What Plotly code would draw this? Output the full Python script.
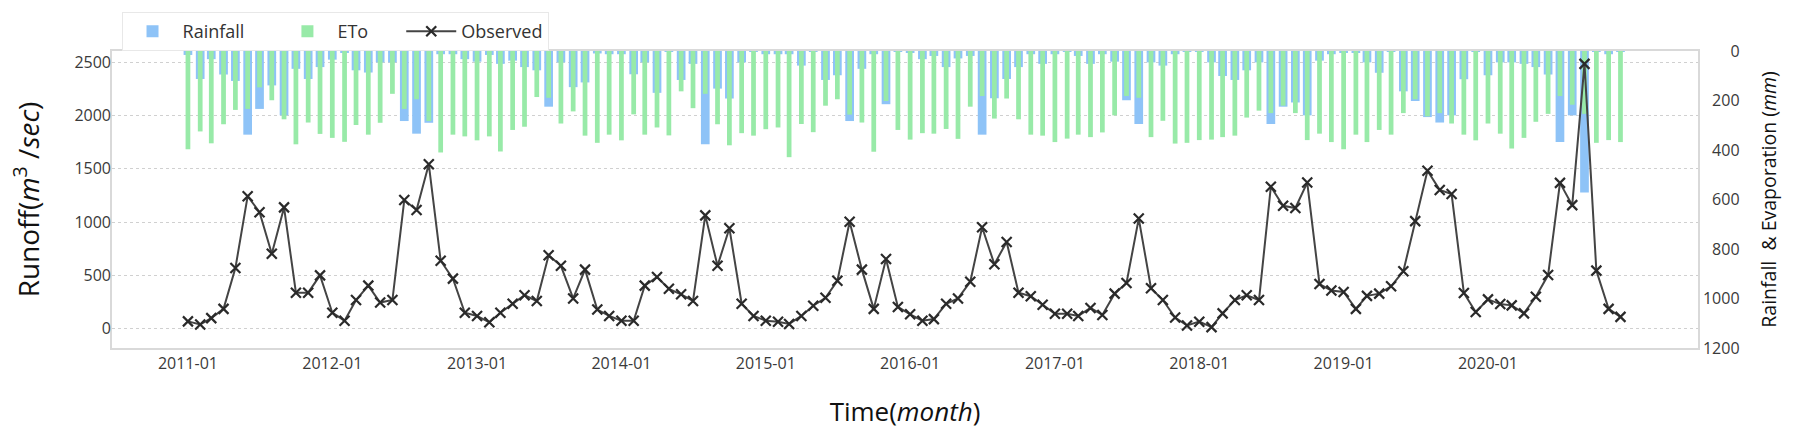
import pandas as pd
import plotly.graph_objects as go

months = pd.date_range("2011-01-01", periods=120, freq="MS")

observed = [
    69, 39, 99, 186, 569, 1243, 1093, 704, 1138, 338, 338, 500,
    150, 75, 269, 404, 245, 269, 1207, 1114, 1542, 638, 470, 150,
    120, 60, 150, 234, 314, 260, 689, 590, 284, 554, 180, 120,
    75, 75, 404, 485, 374, 323, 260, 1063, 590, 943, 234, 120,
    75, 66, 45, 120, 216, 290, 449, 1003, 554, 186, 653, 204,
    135, 75, 90, 234, 284, 440, 952, 605, 814, 338, 305, 225,
    141, 141, 120, 195, 129, 329, 428, 1033, 380, 269, 105, 30,
    66, 15, 144, 269, 314, 269, 1332, 1153, 1132, 1371, 419, 359,
    344, 186, 308, 329, 398, 539, 1009, 1482, 1302, 1263, 335, 156,
    275, 231, 219, 144, 299, 503, 1368, 1159, 2484, 545, 186, 111,
]

rainfall = [
    16, 113, 33, 95, 121, 338, 234, 139, 260, 72, 113, 65,
    35, 7, 78, 87, 46, 46, 283, 334, 290, 13, 13, 33,
    43, 16, 52, 39, 65, 78, 225, 46, 146, 127, 10, 13,
    13, 94, 46, 169, 4, 117, 52, 377, 152, 192, 46, 4,
    13, 13, 13, 59, 4, 117, 98, 283, 72, 13, 215, 4,
    7, 33, 20, 65, 30, 20, 338, 191, 113, 65, 13, 52,
    13, 4, 20, 52, 13, 43, 199, 295, 46, 59, 13, 2,
    2, 46, 101, 117, 78, 46, 295, 225, 208, 260, 39, 13,
    7, 7, 46, 88, 4, 163, 202, 267, 289, 260, 114, 4,
    98, 46, 46, 52, 65, 95, 368, 260, 572, 2, 13, 2,
]

eto = [
    397, 325, 373, 296, 238, 234, 147, 199, 276, 377, 289, 335,
    351, 367, 299, 338, 290, 173, 234, 195, 283, 410, 338, 345,
    361, 345, 406, 319, 306, 186, 189, 293, 244, 342, 371, 338,
    361, 256, 338, 309, 341, 163, 231, 173, 296, 381, 332, 342,
    316, 309, 429, 295, 328, 221, 195, 257, 289, 407, 202, 319,
    358, 332, 334, 315, 355, 225, 182, 273, 192, 276, 338, 342,
    368, 354, 338, 348, 329, 260, 182, 189, 348, 282, 374, 371,
    360, 358, 348, 342, 269, 241, 251, 221, 251, 360, 334, 368,
    397, 338, 368, 319, 338, 251, 195, 264, 251, 293, 338, 361,
    293, 334, 394, 351, 286, 254, 182, 217, 254, 371, 360, 368,
]

year_ticks = pd.date_range("2011-01-01", periods=10, freq="12MS")
right_ticks = [0, 200, 400, 600, 800, 1000, 1200]
left_ticks = [0, 500, 1000, 1500, 2000, 2500]

FONT = "Open Sans"
DAY_MS = 86400000
PAD = "\u00a0" * 6

fig = go.Figure()
fig.add_trace(go.Bar(
    x=months, y=rainfall, name="Rainfall" + PAD, yaxis="y",
    marker=dict(color="#8ec3f7", line=dict(width=0)),
    width=22 * DAY_MS,
))
fig.add_trace(go.Bar(
    x=months, y=eto, name="ETo" + PAD, yaxis="y",
    marker=dict(color="#98eaa8", line=dict(width=0)),
    width=12 * DAY_MS,
))
fig.add_trace(go.Scatter(
    x=months, y=observed, name="Observed", yaxis="y2",
    mode="lines+markers",
    line=dict(color="#444444", width=2),
    marker=dict(symbol="x-thin", size=10, line=dict(width=2.2, color="#2a2a2a")),
))

fig.update_layout(
    width=1799, height=434,
    margin=dict(l=112, r=101, t=42, b=84),
    paper_bgcolor="white", plot_bgcolor="white",
    barmode="overlay",
    font=dict(family=FONT, color="#333333", size=16),
    showlegend=True,
    legend=dict(
        orientation="h", x=0.006, xanchor="left", y=1.0, yanchor="bottom",
        font=dict(size=18, color="#333333"),
        bordercolor="#e8e8e8", borderwidth=1, bgcolor="white",
        itemwidth=50, traceorder="normal",
    ),
    xaxis=dict(
        type="date",
        range=["2010-06-23", "2021-06-15"],
        tickvals=list(year_ticks), tickformat="%Y-%m",
        showgrid=False, zeroline=False,
        showline=True, mirror=True, linecolor="#d9d9d9", linewidth=1.5,
        ticks="", tickfont=dict(size=16, color="#3a3a3a"),
        title=dict(text="Time(<i>month</i>)", font=dict(size=26, color="#111111"), standoff=30),
    ),
    yaxis=dict(
        side="right", range=[1200, 0],
        tickvals=right_ticks,
        ticktext=["\u2007" * (4 - len(str(v))) + str(v) for v in right_ticks],
        showgrid=False, zeroline=False,
        showline=True, mirror=True, linecolor="#d9d9d9", linewidth=1.5,
        ticks="", tickfont=dict(size=16, color="#3a3a3a"),
        title=dict(text="Rainfall  &amp; Evaporation (<i>mm</i>)", font=dict(size=19.5, color="#111111"), standoff=24),
    ),
    yaxis2=dict(
        overlaying="y", side="left", range=[-181, 2605],
        tickvals=left_ticks,
        showgrid=True, gridcolor="#d0d0d0", griddash="dot", gridwidth=1,
        zeroline=False, showline=False,
        ticks="", tickfont=dict(size=16, color="#3a3a3a"),
        title=dict(text="Runoff(<i>m</i><sup>3</sup> /<i>sec</i>)", font=dict(size=28, color="#111111"), standoff=26),
    ),
)

fig.write_html("out.html")
